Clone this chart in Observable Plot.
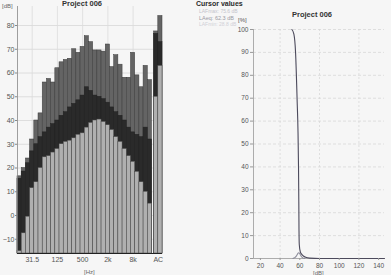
<!DOCTYPE html>
<html><head><meta charset="utf-8">
<script src="https://cdn.jsdelivr.net/npm/d3@7"></script>
<script src="https://cdn.jsdelivr.net/npm/@observablehq/plot@0.6"></script>
<style>
html,body{margin:0;padding:0;background:#f6f6f6;}
#wrap{position:relative;width:391px;height:275px;overflow:hidden;font-family:"Liberation Sans",Arial,sans-serif;background:#f6f6f6;}
#wrap svg{position:absolute;top:0;background:transparent;}
.t{position:absolute;white-space:nowrap;line-height:1;}
</style></head><body><div id="wrap"></div>
<script>
// ---- left chart: 1/3-octave spectrum ----
const bands = ["16","20","25","31.5","40","50","63","80","100","125","160","200","250","315","400","500","630","800","1k","1.25k","1.6k","2k","2.5k","3.15k","4k","5k","6.3k","8k","10k","12.5k","16k","20k"];
const lmax = [16.5,20,24,32,40,43,56,57.5,56,62,64.5,65.5,66,70,68.5,71,75.5,73,69.5,69.5,69,72,62.5,67.5,63.5,58,58,68.5,59,54,63,57];
const leq  = [15.5,18.5,22,27,30,33,35,37,38.5,40,42,43.5,45.5,47,48.5,50.5,54,52.5,50.5,50,49,47.5,45.5,43.5,42,40,37,35,34,33,37,32];
const lmin = [-15,-7.5,-0.5,11.5,14,20,24.5,25,26.5,28,30,31,31.5,32.5,34,34.6,37,39,40,40.4,39.4,38,36,33,31,28,25,22.6,18.4,14,10,5];
const acBands = ["A","C"];
const acMax = [77.5,84];
const acLeq = [76.5,73];
const acMin = [50,63];
const freqTickLabels = ["31.5","125","500","2k","8k"];
const acTickLabel = "AC";
const dbTicks = [-10,0,10,20,30,40,50,60,70,80];
const dbDomain = [-16,88];

// ---- right chart: level distribution ----
const levelTicks = [20,40,60,80,100,120,140];
const pctTicks = [0,10,20,30,40,50,60,70,80,90,100];
const levelDomain = [13,146];
const cumLevel = [52,54,55.7,57.3,58.2,58.7,59,59.2,59.5,60.5,62,64,66,70,80,146];
const cumPct   = [100,98,90,69,55,40,25,12,6,3,1.8,1,0.5,0.15,0,0];
const histLevel = [53,55,56.5,57.5,58.3,59,59.8,60.7,61.7,63,65];
const histPct   = [0,0.3,1,1.8,2.4,2.6,2.3,1.5,0.7,0.2,0];

const cursorLines = ["LAFmax: 75.6 dB","LAeq: 62.3 dB","LAFmin: 28.8 dB"];

const wrap = document.getElementById("wrap");
function addText(txt, x, y, style){
  const d = document.createElement("div");
  d.className = "t"; d.textContent = txt;
  d.style.left = x + "px"; d.style.top = y + "px";
  Object.assign(d.style, style||{});
  wrap.appendChild(d);
  return d;
}

const gapStart = bands.length + 0.5;
const rows = bands.map((b,i)=>({band:b, x1:i, x2:i+1, max:lmax[i], eq:leq[i], min:lmin[i]}))
  .concat(acBands.map((b,j)=>({band:b, x1:gapStart+j, x2:gapStart+j+1, max:acMax[j], eq:acLeq[j], min:acMin[j]})));
const tickPos = freqTickLabels.map(l => bands.indexOf(l) + 0.5).concat([gapStart + 1]);
const tickText = new Map(freqTickLabels.map(l => [bands.indexOf(l) + 0.5, l]).concat([[gapStart + 1, acTickLabel]]));

const left = Plot.plot({
  width: 195, height: 275,
  marginLeft: 17, marginRight: 33, marginTop: 6, marginBottom: 22,
  style: {background: "transparent", fontFamily: "Liberation Sans, Arial, sans-serif"},
  x: {domain: [0, gapStart + 2], axis: null},
  y: {domain: dbDomain, axis: null},
  marks: [
    Plot.gridY(dbTicks, {stroke: "#d8d8d8", strokeOpacity: 1, strokeWidth: 0.8}),
    Plot.gridX(tickPos.slice(0, -1), {stroke: "#dcdcdc", strokeOpacity: 1, strokeWidth: 0.8}),
    Plot.rect(rows, {x1: "x1", x2: "x2", y1: dbDomain[0], y2: "max", fill: "#646464", stroke: "#3a3a3a", strokeWidth: 0.5}),
    Plot.rect(rows, {x1: "x1", x2: "x2", y1: dbDomain[0], y2: "eq", fill: "#2a2a2a", stroke: "#222", strokeWidth: 0.5}),
    Plot.rect(rows, {x1: "x1", x2: "x2", y1: dbDomain[0], y2: "min", fill: "#b0b0b0", stroke: "#4a4a4a", strokeWidth: 0.5}),
    Plot.ruleY([dbDomain[0]], {stroke: "#222", strokeWidth: 1.2}),
    Plot.ruleX([0], {stroke: "#888", strokeWidth: 0.8}),
    Plot.axisY(dbTicks, {tickSize: 2, tickPadding: 1, fontSize: 7, fill: "#555", stroke: "#888", label: null}),
    Plot.axisX(tickPos, {tickSize: 0, tickPadding: 4, fontSize: 7, fill: "#555", tickFormat: d => tickText.get(d), label: null})
  ]
});
left.style.left = "0px";
wrap.appendChild(left);

const right = Plot.plot({
  width: 196, height: 275,
  marginLeft: 58, marginRight: 7, marginTop: 29, marginBottom: 17,
  style: {background: "transparent", fontFamily: "Liberation Sans, Arial, sans-serif"},
  x: {domain: levelDomain, axis: null},
  y: {domain: [0, 100], axis: null},
  marks: [
    Plot.gridY(pctTicks.slice(1), {stroke: "#d4d4d4", strokeOpacity: 1, strokeWidth: 0.7, strokeDasharray: "3,2"}),
    Plot.gridX([40,80,120], {stroke: "#d4d4d4", strokeOpacity: 1, strokeWidth: 0.7, strokeDasharray: "2,2"}),
    Plot.ruleY([0], {stroke: "#999", strokeWidth: 0.8}),
    Plot.ruleX([levelDomain[0]], {stroke: "#999", strokeWidth: 0.8}),
    Plot.line(histLevel.map((v,i)=>({l:v, p:histPct[i]})), {x: "l", y: "p", stroke: "#8e8e9c", strokeWidth: 1.1, curve: "basis"}),
    Plot.line(cumLevel.map((v,i)=>({l:v, p:cumPct[i]})), {x: "l", y: "p", stroke: "#4c4a5c", strokeWidth: 1.1, curve: "monotone-x"}),
    Plot.axisY(pctTicks, {tickSize: 3, tickPadding: 2, fontSize: 6.5, fill: "#555", stroke: "#999", label: null}),
    Plot.axisX(levelTicks, {tickSize: 2, tickPadding: 3, fontSize: 6.5, fill: "#555", stroke: "#999", label: null})
  ]
});
right.style.left = "195px";
wrap.appendChild(right);

// texts
addText("Project 006", 62, 0, {fontSize: "7.5px", fontWeight: "bold", color: "#333"});
addText("[dB]", 2, 3, {fontSize: "6px", color: "#666"});
addText("[Hz]", 84, 269, {fontSize: "6px", color: "#666"});
addText("Cursor values", 196, 0, {fontSize: "7px", fontWeight: "bold", color: "#2a2a2a"});
addText(cursorLines[0], 199, 9, {fontSize: "5px", color: "#c4c4cc"});
addText(cursorLines[1], 199, 16, {fontSize: "5.5px", color: "#9a9aa4"});
addText(cursorLines[2], 199, 22, {fontSize: "5px", color: "#d0d0d6"});
addText("[%]", 238, 17, {fontSize: "6px", color: "#555"});
addText("Project 006", 292, 11, {fontSize: "7.5px", fontWeight: "bold", color: "#333"});
addText("[dB]", 313, 270, {fontSize: "6px", color: "#666"});
</script>
</body></html>
